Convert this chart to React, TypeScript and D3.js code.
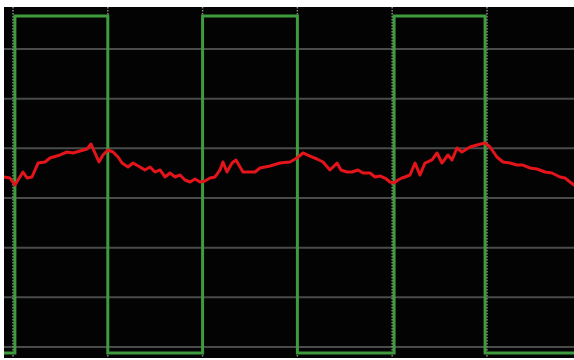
import React from "react";
import * as d3 from "d3";

// Time in divisions, voltage in divisions
const gridTimes = [0, 1, 2, 3, 4, 5];
const gridVolts = [0, 1, 2, 3, 4, 5, 6];

const squareTime = [-0.095, 0.02, 0.02, 1.0, 1.0, 2.0, 2.0, 3.0, 3.0, 4.02, 4.02, 4.98, 4.98, 5.918];
const squareVolt = [-0.121, -0.121, 6.664, 6.664, -0.121, -0.121, 6.664, 6.664, -0.121, -0.121, 6.664, 6.664, -0.121, -0.121];

const redTime = [-0.095, -0.032, 0.021, 0.053, 0.105, 0.148, 0.2, 0.264, 0.338, 0.39, 0.496, 0.57, 0.633, 0.707, 0.781, 0.823, 0.865, 0.907, 0.949, 1.002, 1.055, 1.108, 1.15, 1.213, 1.266, 1.34, 1.392, 1.445, 1.498, 1.551, 1.603, 1.656, 1.709, 1.762, 1.814, 1.867, 1.92, 1.973, 2.025, 2.078, 2.131, 2.184, 2.215, 2.257, 2.31, 2.352, 2.426, 2.553, 2.605, 2.711, 2.816, 2.922, 2.996, 3.059, 3.133, 3.207, 3.27, 3.344, 3.418, 3.46, 3.523, 3.576, 3.639, 3.692, 3.766, 3.819, 3.871, 3.924, 3.977, 4.019, 4.061, 4.103, 4.135, 4.188, 4.241, 4.293, 4.346, 4.42, 4.473, 4.525, 4.589, 4.631, 4.684, 4.736, 4.821, 4.895, 4.979, 5.032, 5.105, 5.169, 5.243, 5.316, 5.38, 5.454, 5.527, 5.612, 5.686, 5.77, 5.823, 5.876, 5.918];
const redVolt = [3.423, 3.402, 3.262, 3.362, 3.523, 3.402, 3.423, 3.704, 3.725, 3.805, 3.866, 3.926, 3.906, 3.946, 3.986, 4.087, 3.906, 3.725, 3.866, 3.966, 3.926, 3.825, 3.704, 3.624, 3.704, 3.624, 3.564, 3.624, 3.523, 3.564, 3.423, 3.503, 3.423, 3.463, 3.362, 3.322, 3.382, 3.322, 3.342, 3.402, 3.423, 3.564, 3.725, 3.523, 3.704, 3.765, 3.523, 3.523, 3.604, 3.644, 3.704, 3.725, 3.805, 3.906, 3.845, 3.785, 3.725, 3.564, 3.704, 3.564, 3.523, 3.523, 3.564, 3.503, 3.503, 3.423, 3.443, 3.402, 3.322, 3.302, 3.362, 3.402, 3.423, 3.463, 3.704, 3.463, 3.704, 3.765, 3.906, 3.704, 3.866, 3.765, 4.006, 3.926, 4.027, 4.067, 4.107, 4.027, 3.825, 3.725, 3.704, 3.664, 3.664, 3.604, 3.584, 3.523, 3.503, 3.423, 3.402, 3.322, 3.262];

const W = 574;
const H = 360;
const plot = { left: 4, top: 7, right: 574, bottom: 358 };

export default function App() {
  const x = d3.scaleLinear().domain([-0.095, 5.918]).range([plot.left, plot.right]);
  const y = d3.scaleLinear().domain([-0.221, 6.845]).range([plot.bottom, plot.top]);

  const sq = squareTime.map((t, i) => [t, squareVolt[i]] as [number, number]);
  const red = redTime.map((t, i) => [t, redVolt[i]] as [number, number]);
  const line = d3
    .line<[number, number]>()
    .x((d) => x(d[0]))
    .y((d) => y(d[1]));

  return (
    <svg
      width={W}
      height={H}
      style={{ position: "fixed", left: 0, top: 0, background: "#ffffff" }}
    >
      <defs>
        <clipPath id="clip">
          <rect x={plot.left} y={plot.top} width={plot.right - plot.left} height={plot.bottom - plot.top} />
        </clipPath>
      </defs>
      <rect x={plot.left} y={plot.top} width={plot.right - plot.left} height={plot.bottom - plot.top} fill="#030303" />
      <g clipPath="url(#clip)">
        {gridVolts.map((v) => (
          <line key={"h" + v} x1={plot.left} x2={plot.right} y1={y(v)} y2={y(v)} stroke="#4a4c4c" strokeWidth={2} />
        ))}
        {gridTimes.map((t) => (
          <line key={"v" + t} x1={x(t)} x2={x(t)} y1={plot.top} y2={plot.bottom} stroke="#8a8c8c" strokeWidth={1.5} strokeDasharray="1.5,1.5" />
        ))}
        <path d={line(sq) || ""} fill="none" stroke="#3e9b3e" strokeWidth={3} strokeLinejoin="miter" />
        <path d={line(red) || ""} fill="none" stroke="#e3151b" strokeWidth={3} strokeLinejoin="round" strokeLinecap="round" />
      </g>
    </svg>
  );
}
